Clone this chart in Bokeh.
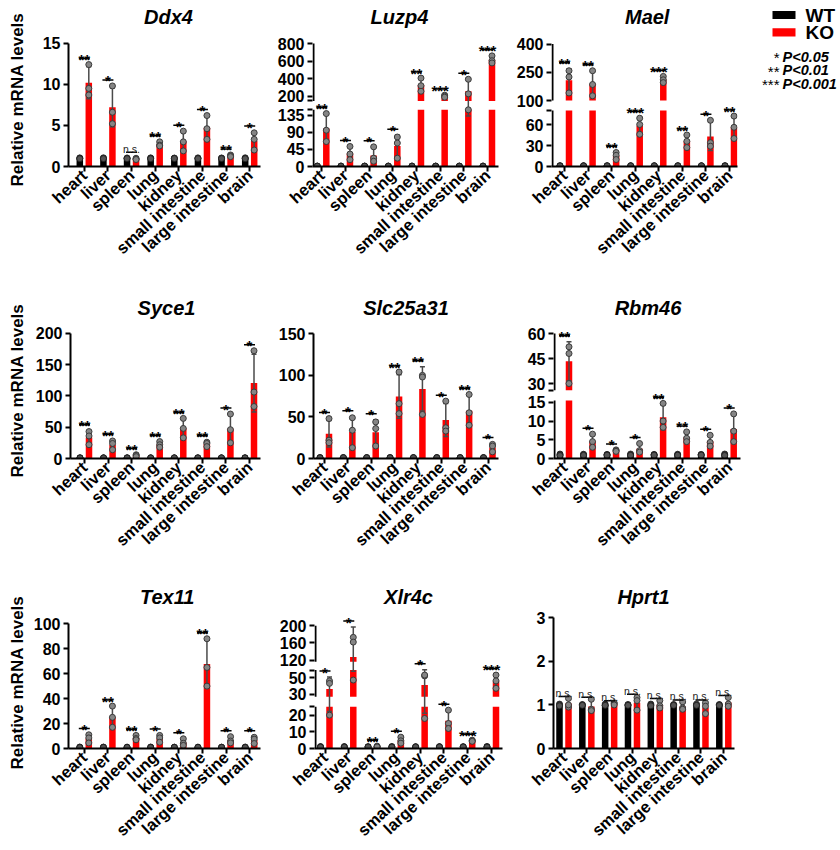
import math
import numpy as np
from bokeh.plotting import figure
from bokeh.layouts import row, column
from bokeh.models import Range1d, FixedTicker, Label
from bokeh.embed import file_html
from bokeh.resources import INLINE
from bokeh.core.properties import value

FONT = "Liberation Sans"

tissues = ["heart", "liver", "spleen", "lung", "kidney",
           "small intestine", "large intestine", "brain"]

# ---------------- data: 3 replicates per tissue ----------------
ddx4_wt = [[1.05, 1.0, 0.95], [1.06, 0.98, 0.96], [1.04, 1.0, 0.96], [1.05, 1.0, 0.95],
           [1.03, 1.0, 0.97], [1.05, 0.99, 0.96], [1.04, 1.0, 0.96], [1.06, 0.99, 0.95]]
ddx4_ko = [[12.4, 9.5, 8.7], [9.8, 6.6, 5.2], [1.0, 0.9, 0.85], [3.0, 2.6, 2.5],
           [4.3, 3.0, 1.9], [6.2, 4.6, 3.3], [1.4, 1.3, 1.2], [4.1, 3.3, 2.0]]
ddx4_sig = ["**", "*", "n.s.", "**", "*", "*", "**", "*"]

wt_ctrl = [[1.2, 1.0, 0.8], [1.15, 1.0, 0.85], [1.1, 1.0, 0.9], [1.2, 0.95, 0.85],
           [1.1, 1.0, 0.9], [1.15, 0.95, 0.9], [1.1, 1.0, 0.9], [1.2, 1.0, 0.8]]

luzp4_ko = [[140, 96, 66], [53, 33, 18], [52, 22, 14], [78, 62, 22],
            [408, 322, 259], [215, 205, 192], [395, 230, 150], [660, 605, 580]]
luzp4_sig = ["**", "*", "*", "*", "**", "***", "*", "***"]

mael_ko = [[258, 225, 140], [258, 185, 125], [20, 16, 10], [69, 60, 46],
           [228, 210, 195], [45, 36, 27], [66, 34, 29], [72, 56, 40]]
mael_sig = ["**", "**", "**", "***", "***", "**", "*", "**"]

syce1_ko = [[43, 36, 22], [28, 24, 14], [6, 5, 3], [27, 22, 18],
            [64, 48, 33], [26, 24, 19], [71, 46, 25], [172, 106, 83]]
syce1_sig = ["**", "**", "**", "**", "**", "**", "*", "*"]

slc25a31_ko = [[48, 22, 19], [49, 34, 13], [44, 36, 15], [104, 66, 54],
               [100, 98, 53], [69, 37, 33], [77, 55, 40], [17, 15, 8]]
slc25a31_sig = ["*", "*", "*", "**", "**", "*", "**", "*"]

rbm46_ko = [[52, 48, 30], [6.5, 4.5, 3.0], [2.3, 2.1, 1.9], [4.0, 2.1, 1.7],
            [14.7, 10.0, 8.3], [7.1, 5.4, 4.5], [6.2, 4.3, 3.3], [11.9, 7.3, 4.5]]
rbm46_sig = ["**", "*", "*", "*", "**", "**", "*", "*"]

tex11_ko = [[11, 8.5, 4.5], [34, 25, 17], [10.5, 8, 7], [10.5, 8.5, 5],
            [7.8, 4.2, 2.5], [88, 65, 50], [9.5, 6, 4.5], [9, 7.5, 4]]
tex11_sig = ["*", "**", "**", "*", "*", "**", "*", "*"]

xlr4c_ko = [[46, 43, 20], [173, 162, 47], [1.4, 1.1, 0.9], [6.8, 4.6, 3.2],
            [52, 53, 18], [23, 15, 12], [5.0, 4.6, 4.3], [53, 46, 37]]
xlr4c_sig = ["*", "*", "**", "*", "*", "*", "***", "***"]

hprt1_wt = [[1.02, 1.0, 0.98], [1.01, 1.0, 0.99], [1.02, 0.99, 0.99], [1.01, 1.0, 0.99],
            [1.02, 1.0, 0.98], [1.01, 1.0, 0.99], [1.02, 0.99, 0.99], [1.01, 1.0, 0.99]]
hprt1_ko = [[1.15, 0.95, 1.0], [1.13, 0.9, 0.87], [1.05, 1.03, 1.0], [1.17, 1.1, 0.88],
            [1.1, 0.98, 0.93], [1.07, 0.93, 0.9], [1.05, 0.97, 0.8], [1.17, 1.02, 0.97]]
hprt1_sig = ["n.s."] * 8

# y-axis tick values
ddx4_ticks = [0, 5, 10, 15]
luzp4_ticks = [0, 45, 90, 135, 200, 400, 600, 800]
mael_ticks = [0, 30, 60, 100, 250, 400]
syce1_ticks = [0, 50, 100, 150, 200]
slc25a31_ticks = [0, 50, 100, 150]
rbm46_ticks = [0, 5, 10, 15, 30, 45, 60]
tex11_ticks = [0, 20, 40, 60, 80, 100]
xlr4c_ticks = [0, 10, 20, 30, 50, 120, 160, 200]
hprt1_ticks = [0, 1, 2, 3]

YLABEL = "Relative mRNA levels"

# ---------------- layout geometry (page pixels) ----------------
# segs: (value0, value1, px0, px1), px measured upward from the baseline
GEOM = {
    "Ddx4": dict(left=68, right=260, mbl=42, mbr=8, mbb=102, ftop=0, y0=166, heart=83.8, brain=249.2,
                 segs=[(0, 15, 0, 123.3)], tx=168, tb=16.8),
    "Luzp4": dict(left=312, right=498, mbl=44, mbr=12, mbb=102, ftop=0, y0=166, heart=321.3, brain=487,
                  segs=[(0, 150, 0, 56.7), (150, 800, 65.6, 123)], tx=399, tb=16.8),
    "Mael": dict(left=551, right=737, mbl=41, mbr=8, mbb=102, ftop=0, y0=166, heart=564, brain=729,
                 segs=[(0, 80, 0, 56), (100, 400, 66, 122.5)], tx=646.7, tb=16.8),
    "Syce1": dict(left=70, right=260, mbl=44, mbr=8, mbb=102, ftop=268, y0=458, heart=84, brain=249,
                  segs=[(0, 200, 0, 125.3)], tx=166, tb=307.5),
    "Slc25a31": dict(left=313, right=498, mbl=45, mbr=12, mbb=102, ftop=268, y0=458, heart=324, brain=487.5,
                     segs=[(0, 150, 0, 124.7)], tx=405.5, tb=307.5),
    "Rbm46": dict(left=553, right=740, mbl=43, mbr=8, mbb=102, ftop=268, y0=458, heart=564, brain=728.7,
                  segs=[(0, 15.5, 0, 58.1), (26, 60, 68.3, 125)], tx=647.5, tb=307.5),
    "Tex11": dict(left=68, right=260, mbl=42, mbr=8, mbb=101, ftop=560, y0=748, heart=83.8, brain=249.2,
                  segs=[(0, 100, 0, 124.7)], tx=166.7, tb=596.5),
    "Xlr4c": dict(left=314, right=502, mbl=46, mbr=8, mbb=101, ftop=560, y0=748, heart=324.5, brain=491,
                  segs=[(0, 25, 0, 41.7), (26.8, 59, 51.7, 78.4), (116, 200, 86.7, 122.7)], tx=408, tb=596.5),
    "Hprt1": dict(left=553, right=734, mbl=43, mbr=8, mbb=101, ftop=560, y0=748, heart=563.5, brain=723.3,
                  segs=[(0, 3, 0, 130.7)], tx=643, tb=596.5, gap=2),
}


def panel(name, ko, wt, sig, ticks):
    g = GEOM[name]
    left, right = g["left"], g["right"]
    fh = g["y0"] - g["ftop"]
    s = (g["brain"] - g["heart"]) / 7.0
    xs = -(g["heart"] - left) / s
    xe = 7 + (right - g["brain"]) / s
    segs = g["segs"]
    broken = len(segs) > 1
    if not broken:
        upp = segs[0][1] / segs[0][3]

        def tf(v):
            return np.asarray(v, float)
    else:
        upp = 1.0
        vs, ds = [], []
        for (v0, v1, d0, d1) in segs:
            if vs and v0 <= vs[-1]:
                v0 = vs[-1] + 1e-6
            vs += [v0, v1]
            ds += [d0, d1]

        def tf(v):
            return np.interp(np.asarray(v, float), vs, ds)

    ye = fh * upp
    p = figure(width=g["mbl"] + (right - left) + g["mbr"], height=fh + g["mbb"],
               x_range=Range1d(xs, xe), y_range=Range1d(0, ye),
               min_border_left=g["mbl"], min_border_right=g["mbr"],
               min_border_top=0, min_border_bottom=g["mbb"],
               output_backend="svg", toolbar_location=None)
    p.outline_line_color = None
    p.xgrid.visible = False
    p.ygrid.visible = False

    def px2x(px):
        return xs + (px - left) / s

    def py2y(py):
        return (g["y0"] - py) * upp

    ko = np.array(ko, float)
    wt = np.array(wt, float)
    km, ksd = ko.mean(1), ko.std(1, ddof=1)
    wm, wsd = wt.mean(1), wt.std(1, ddof=1)
    idx = np.arange(8, dtype=float)
    off = 4.5 / s
    bw = 6.5 / s
    xw, xk = idx - off, idx + off

    p.vbar(x=xw, top=tf(wm), bottom=0, width=bw, fill_color="black", line_color=None)
    p.vbar(x=xk, top=tf(km), bottom=0, width=bw, fill_color="#ff0000", line_color=None)

    if broken:
        for i in range(len(segs) - 1):
            p.quad(left=[xs + 2.2 / s], right=[xe], bottom=[segs[i][3]], top=[segs[i + 1][2]],
                   fill_color="white", line_color=None)
        ax_x = xs + 1.0 / s
        p.segment(x0=[ax_x] * len(segs), y0=[sg[2] for sg in segs],
                  x1=[ax_x] * len(segs), y1=[sg[3] for sg in segs],
                  line_color="black", line_width=2)

    cap = 2.5 / s
    for xx, m, sd, col in ((xw, wm, wsd, "black"), (xk, km, ksd, "#4a4a4a")):
        lo, hi = tf(m - sd), tf(m + sd)
        p.segment(x0=xx, y0=lo, x1=xx, y1=hi, line_color=col, line_width=1.5)
        p.segment(x0=xx - cap, y0=hi, x1=xx + cap, y1=hi, line_color=col, line_width=1.5)
        p.segment(x0=xx - cap, y0=lo, x1=xx + cap, y1=lo, line_color=col, line_width=1.5)

    p.scatter(x=np.repeat(xw, 3), y=tf(wt.ravel()), size=6, fill_color="#555555",
              line_color="#1a1a1a", line_width=0.8)
    p.scatter(x=np.repeat(xk, 3), y=tf(ko.ravel()), size=6, fill_color="#858585",
              line_color="#3a3a3a", line_width=1)

    # significance marks
    topv = np.maximum(tf(km + ksd), tf(ko.max(1)))
    ly = topv + g.get("gap", 6) * upp
    hl = 5.5 / s
    p.segment(x0=idx - hl, y0=ly, x1=idx + hl, y1=ly, line_color="black", line_width=1.5)
    st = [i for i in range(8) if sig[i] != "n.s."]
    ns = [i for i in range(8) if sig[i] == "n.s."]
    if st:
        p.text(x=idx[st], y=ly[st] - 1.0 * upp, text=[sig[i] for i in st],
               text_font=value(FONT), text_font_size="15px", text_font_style="bold",
               text_align="center", text_baseline="alphabetic", text_color="black")
    if ns:
        p.text(x=idx[ns], y=ly[ns] + 3.5 * upp, text=["n.s." for i in ns],
               text_font=value(FONT), text_font_size="10.5px", text_align="center",
               text_baseline="alphabetic", text_color="#222222")

    # x axis
    xa = p.xaxis[0]
    xa.ticker = FixedTicker(ticks=list(range(8)))
    xa.major_label_overrides = {i: t for i, t in enumerate(tissues)}
    xa.major_label_orientation = math.radians(43)
    xa.major_label_text_font = FONT
    xa.major_label_text_font_size = "16.5px"
    xa.major_label_text_font_style = "bold"
    xa.major_label_text_color = "black"
    xa.major_label_standoff = 1
    xa.axis_line_width = 2
    xa.major_tick_line_width = 2
    xa.major_tick_out = 5
    xa.major_tick_in = 0
    xa.minor_tick_out = 0
    xa.minor_tick_in = 0

    # y axis
    ya = p.yaxis[0]
    ya.major_label_text_font = FONT
    ya.major_label_text_font_size = "16px"
    ya.major_label_text_font_style = "bold"
    ya.major_label_text_color = "black"
    ya.major_label_standoff = 3
    ya.axis_line_width = 2
    ya.major_tick_line_width = 2
    ya.major_tick_out = 5
    ya.major_tick_in = 0
    ya.minor_tick_out = 0
    ya.minor_tick_in = 0
    if not broken:
        ya.ticker = FixedTicker(ticks=ticks)
        ya.bounds = (0, segs[0][1])
    else:
        ya.axis_line_color = None
        pos = {}
        for t in ticks:
            pos[round(float(tf(t)), 3)] = str(t)
        for (v0, v1, d0, d1) in segs:
            for d in (d0, d1):
                if d > 0 and all(abs(d - k) > 3 for k in pos):
                    pos[round(float(d), 3)] = ""
        ya.ticker = FixedTicker(ticks=sorted(pos))
        ya.major_label_overrides = pos

    p.add_layout(Label(x=px2x(g["tx"]), y=py2y(g["tb"]), text=name, text_font=FONT,
                       text_font_size="20px", text_font_style="bold italic",
                       text_align="center", text_baseline="alphabetic", text_color="black"))
    return p


pA = panel("Ddx4", ddx4_ko, ddx4_wt, ddx4_sig, ddx4_ticks)
pB = panel("Luzp4", luzp4_ko, wt_ctrl, luzp4_sig, luzp4_ticks)
pC = panel("Mael", mael_ko, wt_ctrl, mael_sig, mael_ticks)
pD = panel("Syce1", syce1_ko, wt_ctrl, syce1_sig, syce1_ticks)
pE = panel("Slc25a31", slc25a31_ko, wt_ctrl, slc25a31_sig, slc25a31_ticks)
pF = panel("Rbm46", rbm46_ko, wt_ctrl, rbm46_sig, rbm46_ticks)
pG = panel("Tex11", tex11_ko, wt_ctrl, tex11_sig, tex11_ticks)
pH = panel("Xlr4c", xlr4c_ko, wt_ctrl, xlr4c_sig, xlr4c_ticks)
pI = panel("Hprt1", hprt1_ko, hprt1_wt, hprt1_sig, hprt1_ticks)

# ---------------- full-height strip holding the three y-axis titles ----------------
TOTAL_H = 849
ylab_centres = [99, 390, 682]
yl = figure(width=26, height=TOTAL_H, x_range=Range1d(0, 26), y_range=Range1d(0, TOTAL_H),
            min_border=0, output_backend="svg", toolbar_location=None,
            x_axis_type=None, y_axis_type=None)
yl.outline_line_color = None
yl.grid.visible = False
for yc in ylab_centres:
    yl.add_layout(Label(x=16.7, y=TOTAL_H - yc, text=YLABEL, angle=math.pi / 2, text_font=FONT,
                        text_font_size="17px", text_font_style="bold", text_align="center",
                        text_baseline="middle", text_color="black"))

# ---------------- legend panel (y measured downward from top of row) ----------------
LH = 268
lg = figure(width=94, height=LH, x_range=Range1d(745, 839), y_range=Range1d(0, LH),
            min_border_left=0, min_border_right=0, min_border_top=0, min_border_bottom=0,
            output_backend="svg", toolbar_location=None,
            x_axis_type=None, y_axis_type=None)
lg.outline_line_color = None
lg.grid.visible = False
groups = ["WT", "KO"]
group_colors = ["black", "#ff0000"]
lg.quad(left=[772, 772], right=[795, 795], top=[LH - 17, LH - 45], bottom=[LH - 30, LH - 58],
        fill_color=group_colors, line_color=None)
lg.text(x=[805, 805], y=[LH - 24, LH - 52], text=groups, text_font=value(FONT), text_font_size="19px",
        text_font_style="bold", text_align="left", text_baseline="middle", text_color="black")
p_stars = ["*", "**", "***"]
p_labels = ["P<0.05", "P<0.01", "P<0.001"]
lg.text(x=[779, 779, 779], y=[LH - 92, LH - 114, LH - 136], text=p_stars, text_font=value(FONT),
        text_font_size="15px", text_align="right", text_baseline="middle", text_color="black")
lg.text(x=[782, 782, 782], y=[LH - 91, LH - 113, LH - 135], text=p_labels, text_font=value(FONT),
        text_font_size="14.5px", text_font_style="bold italic", text_align="left",
        text_baseline="middle", text_color="black")

grid = column(row(pA, pB, pC, lg), row(pD, pE, pF), row(pG, pH, pI))
layout = row(yl, grid)
open("out.html", "w").write(file_html(layout, INLINE, "chart"))
